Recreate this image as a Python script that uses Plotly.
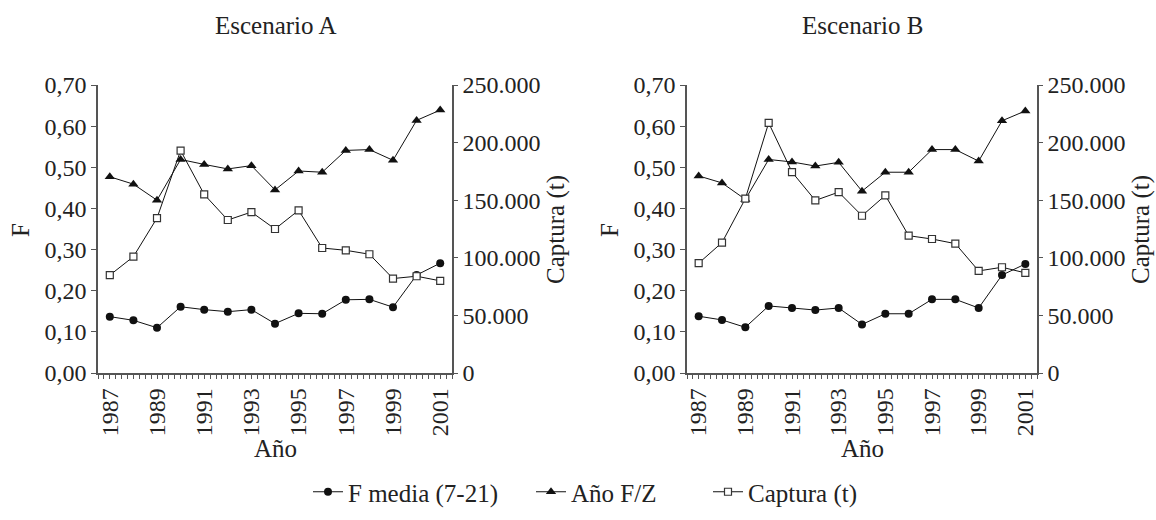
import plotly.graph_objects as go

years = list(range(1987, 2002))

# Escenario A
f_media_A = [0.137, 0.128, 0.110, 0.161, 0.154, 0.149, 0.154, 0.120, 0.145, 0.144, 0.178, 0.179, 0.160, 0.238, 0.267]
ano_fz_A = [0.477, 0.459, 0.420, 0.519, 0.507, 0.496, 0.504, 0.445, 0.491, 0.488, 0.541, 0.543, 0.517, 0.614, 0.639]
captura_A = [84900, 101000, 134500, 193100, 155000, 132800, 139700, 125000, 141200, 108500, 106500, 103100, 82000, 84000, 80000]

# Escenario B
f_media_B = [0.138, 0.129, 0.111, 0.163, 0.158, 0.153, 0.158, 0.118, 0.144, 0.144, 0.179, 0.179, 0.158, 0.238, 0.265]
ano_fz_B = [0.479, 0.462, 0.422, 0.519, 0.513, 0.503, 0.512, 0.442, 0.488, 0.488, 0.543, 0.543, 0.515, 0.613, 0.637]
captura_B = [95300, 113200, 151300, 217100, 174400, 149800, 157000, 136500, 154200, 119200, 116300, 112300, 88600, 91800, 86900]

tick_years = [1987, 1989, 1991, 1993, 1995, 1997, 1999, 2001]
f_ticks = [0.0, 0.1, 0.2, 0.3, 0.4, 0.5, 0.6, 0.7]
cap_ticks = [0, 50000, 100000, 150000, 200000, 250000]

names = ["F media (7-21)", "Año F/Z", "Captura (t)"]
titles = ["Escenario A", "Escenario B"]

FONT = "Liberation Serif, Times New Roman, serif"
FS = 25
TFS = 24
AXC = "#555555"
TXT = "#222222"
W, H = 1156, 520

fig = go.Figure()
legend_ids = ["legend", "legend2", "legend3"]


def add_panel(xa, yl, yr, fm, fz, cap, show):
    fig.add_trace(go.Scatter(
        x=years, y=fm, xaxis=xa, yaxis=yl, mode="lines+markers", name=names[0],
        marker=dict(symbol="circle", size=8, color="#111111"),
        line=dict(color="#111111", width=1), showlegend=show, legend=legend_ids[0]))
    fig.add_trace(go.Scatter(
        x=years, y=fz, xaxis=xa, yaxis=yl, mode="lines+markers", name=names[1],
        marker=dict(symbol="triangle-up", size=9, color="#111111"),
        line=dict(color="#111111", width=1), showlegend=show, legend=legend_ids[1]))
    fig.add_trace(go.Scatter(
        x=years, y=cap, xaxis=xa, yaxis=yr, mode="lines+markers", name=names[2],
        marker=dict(symbol="square", size=7, color="white",
                    line=dict(color="#333333", width=1.2)),
        line=dict(color="#111111", width=1), showlegend=show, legend=legend_ids[2]))


add_panel("x", "y", "y2", f_media_A, ano_fz_A, captura_A, True)
add_panel("x2", "y3", "y4", f_media_B, ano_fz_B, captura_B, False)

# pixel geometry
panels = [(98, 452), (687, 1037)]
ytop, ybot = 85, 373
ydom = [1 - ybot / H, 1 - ytop / H]
tickfont = dict(family=FONT, size=TFS, color=TXT)


def xaxis_cfg(x0, x1, anchor):
    return dict(
        domain=[x0 / W, x1 / W], range=[1986.5, 2001.5], anchor=anchor,
        tickmode="array", tickvals=tick_years, ticktext=[str(v) for v in tick_years],
        tickangle=-90, ticks="outside", ticklen=4, tickcolor=AXC, tickwidth=1,
        minor=dict(dtick=0.25, tick0=1986.5, ticks="outside", ticklen=4,
                   tickcolor=AXC, tickwidth=1, showgrid=False),
        showline=True, linecolor=AXC, linewidth=1.5, showgrid=False,
        zeroline=False, automargin=False, tickfont=tickfont)


def yleft_cfg(anchor):
    return dict(
        domain=ydom, anchor=anchor, range=[0, 0.7],
        tickmode="array", tickvals=f_ticks, tickformat=".2f",
        ticks="outside", ticklen=5, tickcolor=AXC, tickwidth=1,
        showline=True, linecolor=AXC, linewidth=1.5, showgrid=False,
        zeroline=False, automargin=False, tickfont=tickfont)


def yright_cfg(anchor, overlay):
    return dict(
        domain=ydom, anchor=anchor, overlaying=overlay, side="right",
        range=[0, 250000], tickmode="array", tickvals=cap_ticks, tickformat=",.0f",
        ticks="outside", ticklen=4, tickcolor=AXC, tickwidth=1,
        showline=True, linecolor=AXC, linewidth=1.5, showgrid=False,
        zeroline=False, automargin=False, tickfont=tickfont)


def legend_cfg(xpx):
    return dict(orientation="h", x=xpx / W, xanchor="left", y=1 - 492 / H, yanchor="middle",
                font=dict(family=FONT, size=FS, color=TXT), itemwidth=30,
                bgcolor="rgba(0,0,0,0)")


fig.update_layout(
    width=W, height=H,
    margin=dict(l=0, r=0, t=0, b=0, autoexpand=False),
    paper_bgcolor="white", plot_bgcolor="white",
    separators=",.",
    font=dict(family=FONT, size=FS, color=TXT),
    xaxis=xaxis_cfg(*panels[0], "y"),
    xaxis2=xaxis_cfg(*panels[1], "y3"),
    yaxis=yleft_cfg("x"),
    yaxis2=yright_cfg("x", "y"),
    yaxis3=yleft_cfg("x2"),
    yaxis4=yright_cfg("x2", "y3"),
    showlegend=True,
    legend=legend_cfg(308),
    legend2=legend_cfg(531),
    legend3=legend_cfg(708),
)

ann = []
for i, (x0, x1) in enumerate(panels):
    cx = (x0 + x1) / 2
    ann.append(dict(text=titles[i], x=cx / W, y=1 - 25 / H, showarrow=False,
                    xanchor="center", yanchor="middle", font=dict(family=FONT, size=FS, color=TXT)))
    ann.append(dict(text="F", x=(x0 - 78) / W, y=1 - 230 / H, showarrow=False, textangle=-90,
                    xanchor="center", yanchor="middle", font=dict(family=FONT, size=FS, color=TXT)))
    ann.append(dict(text="Captura (t)", x=min(x1 + 104, 1141) / W, y=1 - 230 / H, showarrow=False,
                    textangle=-90, xanchor="center", yanchor="middle",
                    font=dict(family=FONT, size=FS, color=TXT)))
    ann.append(dict(text="Año", x=cx / W, y=1 - 448 / H, showarrow=False,
                    xanchor="center", yanchor="middle", font=dict(family=FONT, size=FS, color=TXT)))
for a in ann:
    a["xref"] = "paper"
    a["yref"] = "paper"
fig.update_layout(annotations=ann)

fig.write_html("out.html")
